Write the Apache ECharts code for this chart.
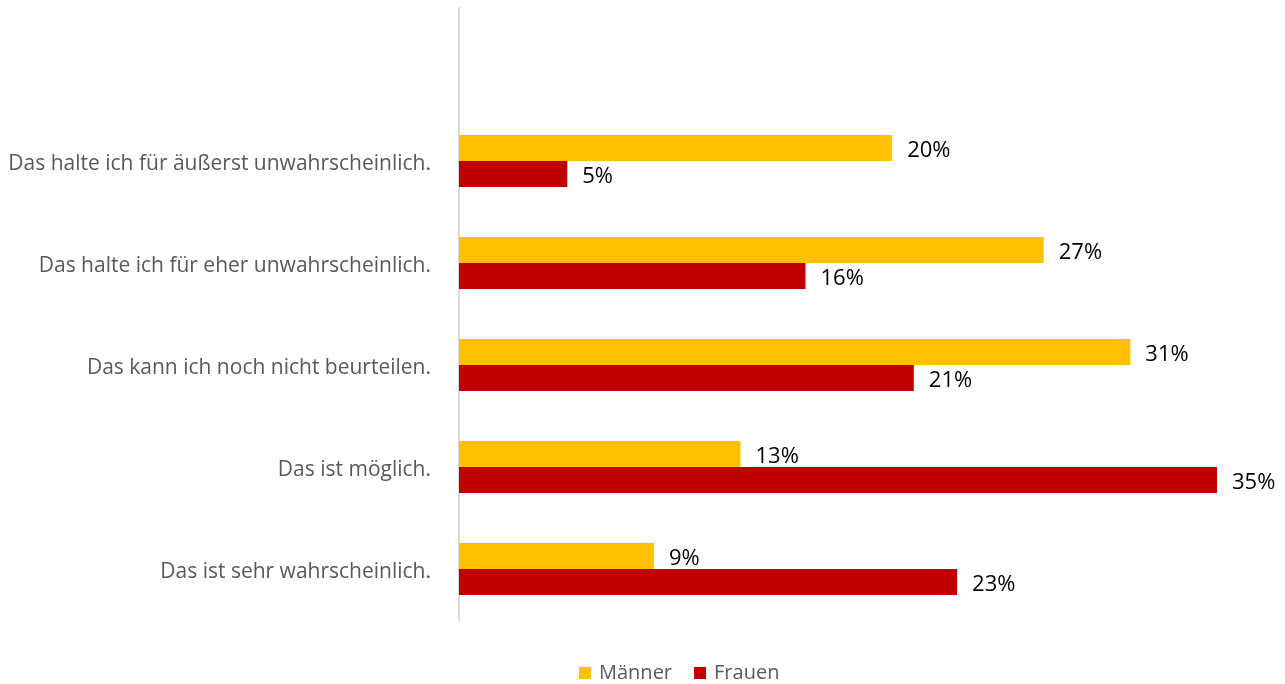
<!DOCTYPE html>
<html>
<head>
<meta charset="utf-8">
<script src="https://cdn.jsdelivr.net/npm/echarts@6/dist/echarts.min.js"></script>
<style>
html,body{margin:0;padding:0;background:#fff;}
#chart{width:1285px;height:684px;}
</style>
</head>
<body>
<div id="chart"></div>
<script>
const categories = ['', 'Das halte ich für äußerst unwahrscheinlich.', 'Das halte ich für eher unwahrscheinlich.', 'Das kann ich noch nicht beurteilen.', 'Das ist möglich.', 'Das ist sehr wahrscheinlich.'];
const maenner = [null, 20, 27, 31, 13, 9];
const frauen = [null, 5, 16, 21, 35, 23];
const seriesNames = ['Männer', 'Frauen'];

const chart = echarts.init(document.getElementById('chart'));
const fontFam = '"Open Sans", sans-serif';
const labelCfg = {
  show: true, position: 'right', distance: 15,
  formatter: p => p.value == null ? '' : p.value + '%',
  color: '#000', fontSize: 22, fontFamily: fontFam, offset: [0, 3]
};
chart.setOption({
  animation: false,
  textStyle: { fontFamily: fontFam },
  grid: { left: 459, right: 68, top: 8, bottom: 64, containLabel: false },
  xAxis: { type: 'value', min: 0, max: 35, show: false },
  yAxis: {
    type: 'category', data: categories, inverse: true,
    axisLine: { show: true, lineStyle: { color: '#d9d9d9', width: 2 } },
    axisTick: { show: false },
    axisLabel: {
      margin: 28,
      formatter: v => v ? '{a|' + v + '}' : '',
      rich: { a: { color: '#595959', fontSize: 21, fontFamily: fontFam, padding: [6, 0, 0, 0] } }
    }
  },
  legend: {
    bottom: -4, left: 574, icon: 'rect', itemWidth: 12, itemHeight: 12, itemGap: 22,
    textStyle: { color: '#595959', fontSize: 20, fontFamily: fontFam, padding: [0, 0, 0, 3] },
    data: seriesNames
  },
  series: [
    { name: seriesNames[0], type: 'bar', data: maenner, barWidth: 26, barGap: '0%', itemStyle: { color: '#FFC000' }, label: labelCfg },
    { name: seriesNames[1], type: 'bar', data: frauen, barWidth: 26, barGap: '0%', itemStyle: { color: '#C00000' }, label: labelCfg }
  ]
});
</script>
</body>
</html>
